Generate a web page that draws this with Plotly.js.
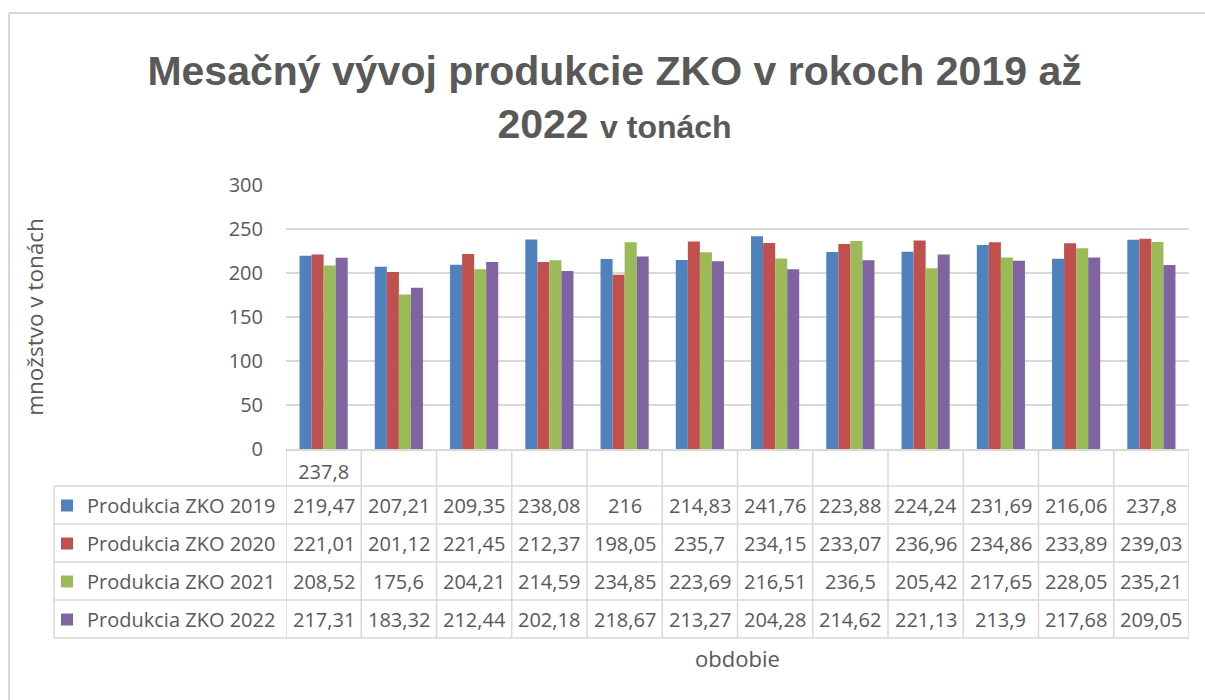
<!DOCTYPE html>
<html>
<head>
<meta charset="utf-8">
<script src="https://cdn.plot.ly/plotly-3.0.1.min.js"></script>
<style>html,body{margin:0;padding:0;background:#fff;}#chart{width:1205px;height:700px;}</style>
</head>
<body>
<div id="chart"></div>
<script>
// Data
const headerLabels = ["237,8", "", "", "", "", "", "", "", "", "", "", ""];
const seriesNames = ["Produkcia ZKO 2019", "Produkcia ZKO 2020", "Produkcia ZKO 2021", "Produkcia ZKO 2022"];
const v2019 = [219.47, 207.21, 209.35, 238.08, 216, 214.83, 241.76, 223.88, 224.24, 231.69, 216.06, 237.8];
const v2020 = [221.01, 201.12, 221.45, 212.37, 198.05, 235.7, 234.15, 233.07, 236.96, 234.86, 233.89, 239.03];
const v2021 = [208.52, 175.6, 204.21, 214.59, 234.85, 223.69, 216.51, 236.5, 205.42, 217.65, 228.05, 235.21];
const v2022 = [217.31, 183.32, 212.44, 202.18, 218.67, 213.27, 204.28, 214.62, 221.13, 213.9, 217.68, 209.05];
const colors = ["#4F81BD", "#C0504D", "#9BBB59", "#8064A2"];
const titleLine1 = "Mesačný vývoj produkcie ZKO v rokoch 2019 až";
const titleLine2a = "2022";
const titleLine2b = "v tonách";
const yTitle = "množstvo v tonách";
const xTitle = "obdobie";

const allSeries = [v2019, v2020, v2021, v2022];
const xIdx = headerLabels.map((_, i) => i);

// layout geometry helpers (pixels -> paper)
const M = {l: 286, r: 16, t: 185, b: 251};
const W = 1205, H = 700;
const pw = W - M.l - M.r, ph = H - M.t - M.b;
const py = p => (H - M.b - p) / ph;
const px = p => (p - M.l) / pw;

const gridC = "#D9D9D9";
const textC = "#595959";
const bodyFont = "Open Sans, Liberation Sans, sans-serif";

const traces = allSeries.map((vals, k) => ({
  type: "bar",
  name: seriesNames[k],
  x: xIdx,
  y: vals,
  marker: {color: colors[k], line: {width: 0}},
  legendgroup: "g" + k,
  hoverinfo: "y+name"
}));

const fmt = v => String(v).replace(".", ",");

const rowTop = 486, rowH = 38;
const annotations = [];
allSeries.forEach((vals, k) => {
  const yc = py(rowTop + rowH * k + rowH / 2);
  vals.forEach((v, i) => {
    annotations.push({
      xref: "x", yref: "paper", x: i, y: yc, text: fmt(v), showarrow: false,
      xanchor: "center", yanchor: "middle",
      font: {family: bodyFont, size: 20, color: textC}
    });
  });
});

const shapes = [];
const lineStyle = {color: gridC, width: 1.5};
// vertical column lines
for (let i = 0; i <= headerLabels.length; i++) {
  shapes.push({type: "line", xref: "x", yref: "paper", x0: i - 0.5, x1: i - 0.5, y0: 0, y1: py(rowTop + rowH * 4), line: lineStyle});
}
// legend column left border
shapes.push({type: "line", xref: "paper", yref: "paper", x0: px(54), x1: px(54), y0: py(rowTop), y1: py(rowTop + rowH * 4), line: lineStyle});
// horizontal row lines
for (let k = 0; k <= 4; k++) {
  shapes.push({type: "line", xref: "paper", yref: "paper", x0: px(54), x1: 1, y0: py(rowTop + rowH * k), y1: py(rowTop + rowH * k), line: lineStyle});
}
// chart area border (top/left visible)
shapes.push({type: "line", xref: "paper", yref: "paper", x0: px(9), x1: px(1205), y0: py(13), y1: py(13), line: {color: gridC, width: 2}});
shapes.push({type: "line", xref: "paper", yref: "paper", x0: px(9), x1: px(9), y0: py(13), y1: py(700), line: {color: gridC, width: 2}});

const layout = {
  width: W, height: H,
  margin: M,
  paper_bgcolor: "#fff", plot_bgcolor: "#fff",
  title: {
    text: titleLine1 + "<br>" + titleLine2a + " <span style='font-size:32px'>" + titleLine2b + "</span>",
    xref: "container", yref: "container", x: 0.51, xanchor: "center", y: 0.879, yanchor: "top",
    font: {family: "Liberation Sans, Arial, sans-serif", size: 41, weight: "bold", color: textC}
  },
  barmode: "group",
  bargap: 0.36,
  bargroupgap: 0,
  showlegend: true,
  legend: {
    x: px(47), xanchor: "left", y: py(rowTop), yanchor: "top",
    font: {family: bodyFont, size: 20, color: textC},
    tracegroupgap: 9, bgcolor: "rgba(0,0,0,0)", borderwidth: 0,
    traceorder: "grouped", itemclick: false
  },
  xaxis: {
    range: [-0.5, headerLabels.length - 0.5],
    tickvals: xIdx, ticktext: headerLabels,
    showgrid: false, zeroline: false,
    showline: true, linecolor: gridC, linewidth: 1.5,
    ticks: "", ticklabelstandoff: 4,
    tickfont: {family: bodyFont, size: 20, color: textC},
    title: {text: xTitle, standoff: 168, font: {family: bodyFont, size: 22, color: textC}},
    automargin: true, fixedrange: true
  },
  yaxis: {
    range: [0, 300], dtick: 50, tick0: 0,
    showgrid: true, gridcolor: gridC, gridwidth: 1.5,
    zeroline: false, showline: false, ticks: "",
    ticklabelstandoff: 22,
    tickfont: {family: bodyFont, size: 20, color: textC},
    title: {text: yTitle, standoff: 178, font: {family: bodyFont, size: 22.5, color: textC}},
    automargin: true, fixedrange: true
  },
  annotations: annotations,
  shapes: shapes
};

Plotly.newPlot("chart", traces, layout, {displayModeBar: false, staticPlot: false});
</script>
</body>
</html>
